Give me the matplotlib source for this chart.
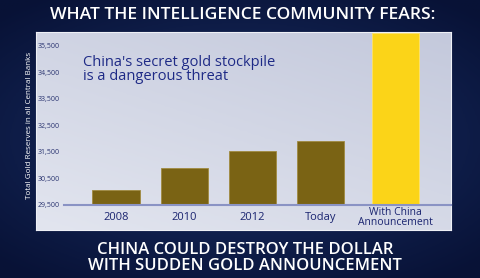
import numpy as np
import matplotlib
matplotlib.use("Agg")
import matplotlib.pyplot as plt
from matplotlib.colors import LinearSegmentedColormap

# ---- data ----
categories = ["2008", "2010", "2012", "Today", "With China\nAnnouncement"]
reserves = [30070, 30910, 31550, 31900, 36000]
yticks = [29500, 30500, 31500, 32500, 33500, 34500, 35500]
title = "WHAT THE INTELLIGENCE COMMUNITY FEARS:"
subtitle = "CHINA COULD DESTROY THE DOLLAR\nWITH SUDDEN GOLD ANNOUNCEMENT"
note = "China's secret gold stockpile\nis a dangerous threat"
ylabel = "Total Gold Reserves in all Central Banks"

W, H = 480, 278
fig = plt.figure(figsize=(W / 100, H / 100), dpi=100)
FONT = ["Open Sans", "DejaVu Sans"]

# background (dark navy, radial)
bg = fig.add_axes([0, 0, 1, 1])
yy, xx = np.mgrid[0:1:200j, 0:1:300j]
r = np.sqrt(((xx - 0.5) / 0.8) ** 2 + ((yy - 0.5) / 0.7) ** 2)
bgcmap = LinearSegmentedColormap.from_list("bg", ["#1a3068", "#081236"])
bg.imshow(r, cmap=bgcmap, aspect="auto", extent=[0, 1, 0, 1], vmin=0, vmax=0.9)
bg.set_axis_off()

# light panel
pl, pr, pb, pt = 36 / W, 451 / W, (H - 230) / H, (H - 32) / H
panel = fig.add_axes([pl, pb, pr - pl, pt - pb])
g = np.linspace(0, 1, 100)
pg = np.add.outer(g * 0.6, g[::-1] * 0.4)
pcmap = LinearSegmentedColormap.from_list("pn", ["#c4c9dc", "#e2e5ef"])
panel.imshow(pg, cmap=pcmap, aspect="auto", extent=[0, 1, 0, 1])
panel.set_xticks([]); panel.set_yticks([])
for s in panel.spines.values():
    s.set_color("#eef0f6"); s.set_linewidth(0.8)

# chart axes
ax = fig.add_axes([64 / W, (H - 205) / H, pr - 64 / W, pt - (H - 205) / H - 0.002])
ax.patch.set_alpha(0)
x = [0, 1, 2, 3, 4.09]
colors = ["#7a6314"] * 4 + ["#fbd418"]
edges = ["#a08a40"] * 4 + ["#fde36a"]
ax.bar(x, [v - 29500 for v in reserves], bottom=29500, width=0.69,
       color=colors, edgecolor=edges, linewidth=0.6)
ax.set_xlim(-0.762, 4.91)
ax.set_ylim(29500, 36000)
ax.set_yticks(yticks)
ax.set_yticklabels([f"{v:,}" for v in yticks], fontsize=5, color="#2a3470", family=FONT)
ax.set_xticks(x)
ax.set_xticklabels(categories, fontsize=8, color="#1a2470", family=FONT, linespacing=0.95)
ax.tick_params(axis="y", length=0, pad=3)
ax.tick_params(axis="x", length=0, pad=9)
for lab in ax.get_xticklabels():
    lab.set_va("center")
for k in ["top", "right", "left"]:
    ax.spines[k].set_visible(False)
ax.spines["bottom"].set_color("#8a93c4")
ax.spines["bottom"].set_linewidth(1.5)
ax.get_xticklabels()[-1].set_fontsize(7.5)

ax.text(0.05, 0.87, note, transform=ax.transAxes, fontsize=10.5, color="#1e2a86",
        family=FONT, va="top", ha="left", linespacing=0.95)

fig.text(30 / W, 1 - 125 / H, ylabel, rotation=90, color="white", fontsize=5.8,
         ha="center", va="center", family=FONT)
fig.text(243 / W, 1 - 15 / H, title, color="white", fontsize=12.6, fontweight="semibold",
         ha="center", va="center", family=FONT)
fig.text(245 / W, 1 - 258 / H, subtitle, color="white", fontsize=12, fontweight="semibold",
         ha="center", va="center", family=FONT, linespacing=0.95)

fig.savefig("out.png", dpi=100)
